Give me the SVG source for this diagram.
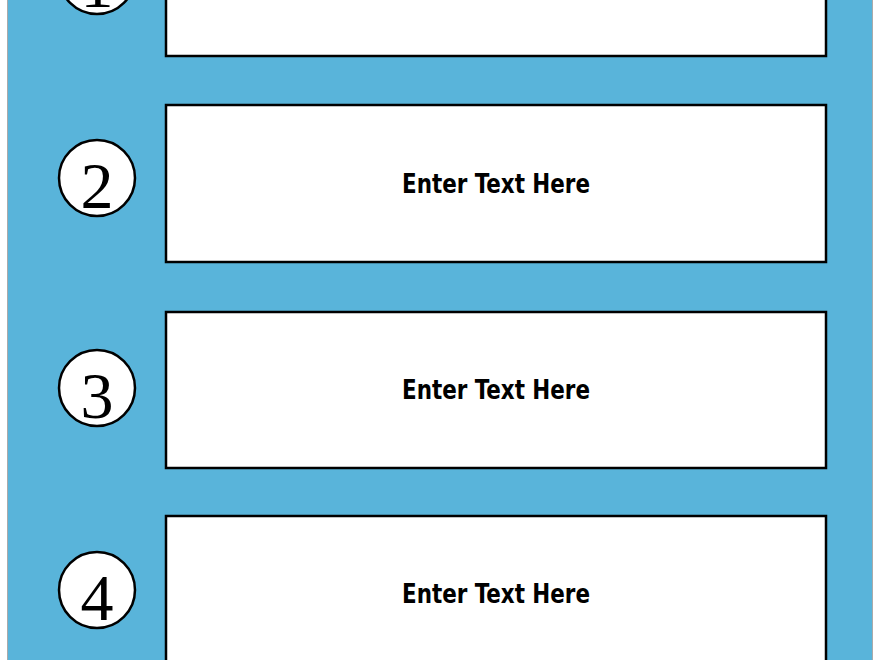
<svg xmlns="http://www.w3.org/2000/svg" width="880" height="660" viewBox="0 0 880 660">
<style>
.box{fill:#fff;stroke:#000;stroke-width:2.5}
.c{fill:#fff;stroke:#000;stroke-width:2.5}
.n{font-family:"Liberation Serif",serif;font-size:66px;text-anchor:middle;fill:#000}
.t{font-family:"DejaVu Sans Condensed","DejaVu Sans",sans-serif;font-weight:bold;font-size:27px;text-anchor:middle;fill:#000}
</style>
<rect x="0" y="0" width="880" height="660" fill="#fff"/>
<rect x="7.5" y="-1" width="865" height="662" fill="#59b4da" stroke="#aaa" stroke-width="1"/>
<g id="step1">
<rect class="box" x="166" y="-10" width="660" height="66"/>
<circle class="c" cx="97" cy="-24" r="38"/>
<text class="n" x="97" y="7">1</text>
</g>
<g id="step2">
<rect class="box" x="166" y="105" width="660" height="157"/>
<circle class="c" cx="97" cy="178" r="38"/>
<text class="n" x="97" y="208">2</text>
<text class="t" x="496" y="193" textLength="188" lengthAdjust="spacingAndGlyphs">Enter Text Here</text>
</g>
<g id="step3">
<rect class="box" x="166" y="312" width="660" height="156"/>
<circle class="c" cx="97" cy="388" r="38"/>
<text class="n" x="97" y="418">3</text>
<text class="t" x="496" y="399" textLength="188" lengthAdjust="spacingAndGlyphs">Enter Text Here</text>
</g>
<g id="step4">
<rect class="box" x="166" y="516" width="660" height="160"/>
<circle class="c" cx="97" cy="590" r="38"/>
<text class="n" x="97" y="620">4</text>
<text class="t" x="496" y="603" textLength="188" lengthAdjust="spacingAndGlyphs">Enter Text Here</text>
</g>
<g id="connectors"/>
</svg>
